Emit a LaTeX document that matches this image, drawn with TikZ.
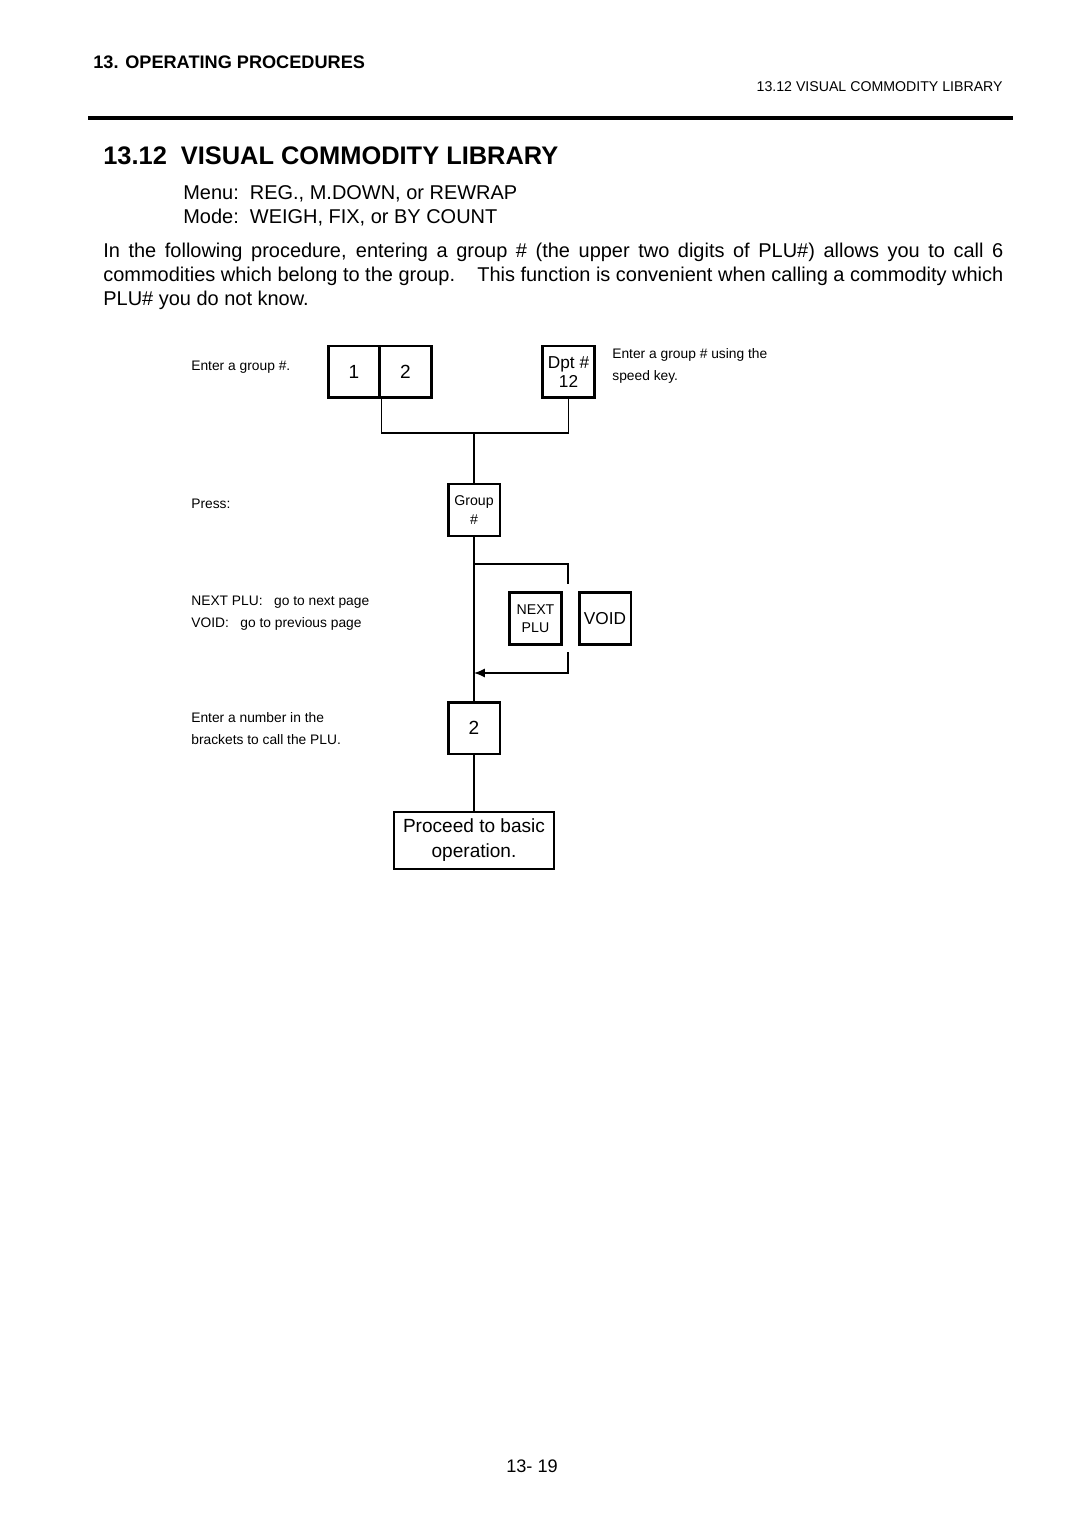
\documentclass[tikz,border=0pt]{standalone}
\usepackage{fontspec}
\setmainfont{Liberation Sans}
\usetikzlibrary{arrows.meta}
\tikzset{
  key/.style={draw, line width=1.6pt, minimum width=28.6pt, minimum height=28.6pt,
    inner sep=0pt, align=center, font=\fontsize{10.5}{10.5}\selectfont},
  smallkey/.style={key, font=\fontsize{7.8}{10}\selectfont},
  note/.style={anchor=west, inner sep=0pt, font=\fontsize{7.6}{9}\selectfont},
  body/.style={anchor=west, inner sep=0pt, font=\fontsize{11}{13}\selectfont},
  flow/.style={line width=0.8pt},
}
\begin{document}
\begin{tikzpicture}[x=0.551pt, y=-0.551pt]
\useasboundingbox (0,0) rectangle (1080,1528);
% page header
\node[anchor=west, inner sep=0pt, font=\bfseries\fontsize{10}{12}\selectfont] (chap) at (93,62) {13. OPERATING PROCEDURES};
\node[anchor=east, inner sep=0pt, font=\fontsize{7.8}{9}\selectfont] (sect) at (1003,87) {13.12 VISUAL COMMODITY LIBRARY};
\draw[line width=2.2pt] (88,118) -- (1013,118);
% title and text
\node[anchor=west, inner sep=0pt, font=\bfseries\fontsize{14}{16}\selectfont] (title) at (103,156) {13.12\hspace{0.55em}VISUAL COMMODITY LIBRARY};
\node[body] (menu) at (183,194) {Menu:\ \ REG., M.DOWN, or REWRAP};
\node[body] (mode) at (183,218) {Mode:\ \ WEIGH, FIX, or BY COUNT};
\node[body] (par1) at (103,252) {\makebox[495.9pt][s]{In the following procedure, entering a group \# (the upper two digits of PLU\#) allows you to call 6}};
\node[body] (par2) at (103,276) {\makebox[495.9pt][s]{commodities which belong to the group.\ \ \ \ This function is convenient when calling a commodity which}};
\node[body] (par3) at (103,300) {PLU\# you do not know.};
% keys
\node[key] (k1) at (354,372) {1};
\node[key] (k2) at (405.5,372) {2};
\node[key, font=\fontsize{9.5}{10.5}\selectfont] (dpt) at (568.5,372) {Dpt \#\\12};
\node[smallkey] (grp) at (474,510) {Group\\\#};
\node[smallkey] (next) at (535.5,618.5) {NEXT\\PLU};
\node[key, font=\fontsize{9.5}{10.5}\selectfont] (void) at (605,618.5) {VOID};
\node[key] (two) at (474,728) {2};
\node[draw, line width=0.8pt, minimum width=88pt, minimum height=31.4pt, inner sep=0pt,
  align=center, font=\fontsize{10.5}{13.8}\selectfont] (proc) at (474,840.5) {Proceed to basic\\operation.};
% connectors
\coordinate (split) at (474,433);
\coordinate (looptop) at (568,584);
\coordinate (loopbot) at (568,652);
\coordinate (loopin) at (474,564);
\coordinate (loopout) at (474,673);
\draw[flow] (k1.south east) |- (split) -| (dpt.south);
\draw[flow] (split) -- (grp.north);
\draw[flow] (grp.south) -- (two.north);
\draw[flow] (loopin) -| (looptop);
\draw[flow, -{Latex[length=6pt, width=5pt]}] (loopbot) |- (loopout);
\draw[flow] (two.south) -- (proc.north);
% notes
\node[note] (n1) at (191,367) {Enter a group \#.};
\node[note] (n2) at (612,355) {Enter a group \# using the};
\node[note] (n3) at (612,377) {speed key.};
\node[note] (n4) at (191,504) {Press:};
\node[note] (n5) at (191,602) {NEXT PLU:\ \ \ go to next page};
\node[note] (n6) at (191,624) {VOID:\ \ \ go to previous page};
\node[note] (n7) at (191,718) {Enter a number in the};
\node[note] (n8) at (191,740) {brackets to call the PLU.};
% page number
\node[inner sep=0pt, font=\fontsize{10}{12}\selectfont] (page) at (532,1466) {13- 19};
\end{tikzpicture}
\end{document}
